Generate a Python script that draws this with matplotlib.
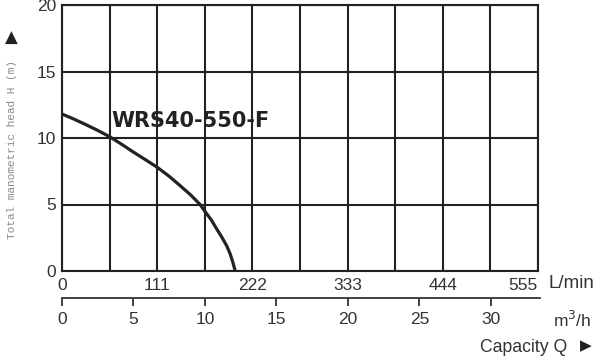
import numpy as np
import matplotlib
matplotlib.use("Agg")
import matplotlib.pyplot as plt

# pump curve (flow in L/min, head in m)
flow_lpm = [0, 14, 28, 42, 55.5, 69, 83, 97, 111, 125, 138, 150, 161, 167, 174, 180, 186, 192, 196, 199, 202]
head_m = [11.8, 11.42, 11.0, 10.56, 10.1, 9.55, 8.95, 8.38, 7.8, 7.12, 6.4, 5.72, 5.0, 4.45, 3.85, 3.2, 2.58, 1.9, 1.3, 0.7, 0.0]

model = "WRS40-550-F"
lpm_ticks = [0, 111, 222, 333, 444, 555]
m3h_ticks = [0, 5, 10, 15, 20, 25, 30]
head_ticks = [0, 5, 10, 15, 20]

W, H = 600, 362
fig = plt.figure(figsize=(W / 100, H / 100), dpi=100)
fig.patch.set_facecolor("white")

dark = "#222222"
txt = "#333333"
font = "Liberation Sans"

# main chart
ax = fig.add_axes([62 / W, 1 - 271 / H, 476 / W, 266 / H])
ax.plot(flow_lpm, head_m, color=dark, lw=2.3, solid_capstyle="butt",
        solid_joinstyle="round", zorder=3)
ax.set_xlim(0, 555)
ax.set_ylim(0, 20)
ax.set_xticks(lpm_ticks)
ax.set_xticks(np.arange(55.5, 555, 111), minor=True)
ax.set_yticks(head_ticks)
ax.grid(True, which="both", color=dark, lw=1.5)
ax.tick_params(which="both", length=0)
ax.tick_params(axis="x", pad=5, labelsize=12.5, labelcolor=txt)
ax.tick_params(axis="y", pad=4, labelsize=12.5, labelcolor=txt)
for lab in ax.get_xticklabels() + ax.get_yticklabels():
    lab.set_fontfamily(font)
ax.get_xticklabels()[-1].set_horizontalalignment("right")
for s in ax.spines.values():
    s.set_color(dark)
    s.set_linewidth(1.5)
ax.text(150, 11.3, model, ha="center", va="center", fontsize=15,
        fontweight="bold", color=dark, family="DejaVu Sans", zorder=4)

# second flow scale in m3/h
ax2 = fig.add_axes([62 / W, 1 - 298 / H, 478 / W, 0.001])
ax2.set_xlim(0, 555 * 60 / 1000 * 478 / 476)
ax2.set_xticks(m3h_ticks)
ax2.set_yticks([])
for k in ("top", "left", "right"):
    ax2.spines[k].set_visible(False)
ax2.spines["bottom"].set_color("#333333")
ax2.spines["bottom"].set_linewidth(1.3)
ax2.tick_params(axis="x", direction="out", length=6, width=1.3, color="#333333",
                pad=4, labelsize=12.5, labelcolor=txt)
for lab in ax2.get_xticklabels():
    lab.set_fontfamily(font)
ax2.patch.set_visible(False)

# unit labels and axis titles
fig.text(548 / W, 1 - 283 / H, "L/min", ha="left", va="center", fontsize=13.5,
         color=txt, family=font)
fig.text(553 / W, 1 - 320 / H, "m$^3$/h", ha="left", va="center", fontsize=12.5,
         color=txt, family=font)
fig.text(567 / W, 1 - 348 / H, "Capacity Q", ha="right", va="center", fontsize=12.7,
         color=txt, family=font)
fig.text(586 / W, 1 - 346 / H, "\u25B6", ha="center", va="center", fontsize=11,
         color=dark, family="DejaVu Sans")
fig.text(11 / W, 1 - 38 / H, "\u25B2", ha="center", va="center", fontsize=12,
         color=dark, family="DejaVu Sans")
fig.text(12 / W, 1 - 150 / H, "Total manometric head H (m)", rotation=90,
         ha="center", va="center", fontsize=8, color="#8a8a8a",
         family="Liberation Mono")

fig.savefig("out.png", dpi=100)
